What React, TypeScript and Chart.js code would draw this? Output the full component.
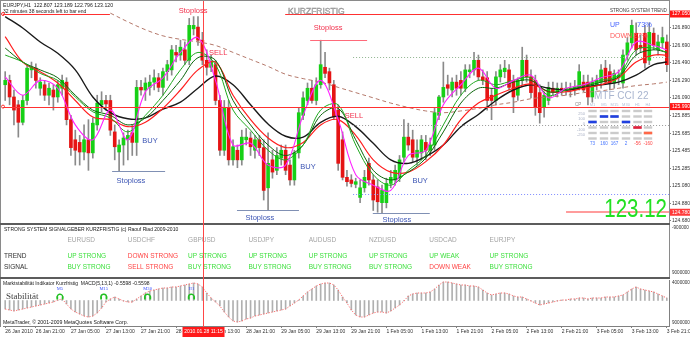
import React, { useEffect, useRef } from 'react';
import { Chart, registerables } from 'chart.js';

Chart.register(...registerables);

const FONT = '"Liberation Sans", Arial, Helvetica, sans-serif';
const SERIF = '"Liberation Serif", "Times New Roman", serif';
Chart.defaults.font.family = FONT;

// ---------- EURJPY H1 candles (one per hour, 26 Jan 14:00 .. 3 Feb 21:00) ----------
const OPEN = [
  126.24,126.29,126.10,126.01,125.81,126.06,126.41,126.43,126.20,126.24,
  126.12,126.18,126.10,126.20,126.27,125.84,125.61,125.58,125.47,125.61,
  125.46,125.78,126.01,126.06,126.06,125.70,125.47,125.55,125.61,125.69,
  125.58,126.21,126.18,126.21,126.27,126.32,126.21,126.39,126.41,126.61,
  126.58,126.64,126.52,126.88,126.90,126.75,126.52,126.44,126.47,126.06,
  125.49,125.97,125.38,125.49,125.38,125.61,125.63,125.49,125.61,125.52,
  125.06,125.38,125.26,125.40,125.49,125.32,125.15,125.46,125.89,126.06,
  126.20,126.06,126.24,126.44,126.39,126.24,125.95,125.61,125.18,125.15,
  125.10,124.95,125.06,125.34,125.15,125.07,124.89,124.89,125.11,125.15,
  125.18,125.41,125.64,125.61,125.41,125.46,125.58,125.49,125.55,125.89,
  126.10,126.24,126.18,126.27,126.29,126.20,126.39,126.41,126.52,126.33,
  126.32,126.12,126.06,126.33,126.39,126.41,126.29,126.12,126.29,126.52,
  126.33,126.29,126.15,125.98,126.06,126.20,126.16,126.20,126.18,126.20,
  126.18,126.21,126.27,126.27,126.10,126.24,126.27,126.43,126.39,126.26,
  126.32,126.26,126.58,126.72,126.83,126.69,126.83,126.52,126.83,126.64,
  126.72,126.73,
];
const HIGH = [
  126.39,126.35,126.18,126.06,126.12,126.47,126.50,126.48,126.32,126.29,
  126.26,126.24,126.29,126.35,126.32,125.89,125.72,125.66,125.78,125.84,
  125.86,126.12,126.16,126.12,126.12,125.78,125.61,125.69,125.72,125.78,
  126.29,126.29,126.32,126.35,126.41,126.37,126.43,126.52,126.69,126.69,
  126.75,126.73,127.00,127.02,127.02,126.84,126.64,126.58,126.52,126.12,
  126.06,126.06,125.61,125.55,125.72,125.74,125.70,125.66,125.66,125.61,
  125.69,125.49,125.52,125.55,125.55,125.38,125.49,125.97,126.16,126.26,
  126.29,126.32,126.75,126.61,126.43,126.29,126.01,125.70,125.26,125.21,
  125.17,125.15,125.26,125.40,125.21,125.15,125.09,125.17,125.26,125.32,
  125.43,125.84,125.80,125.72,125.61,125.66,125.66,125.63,125.97,126.12,
  126.50,126.35,126.32,126.35,126.39,126.47,126.47,126.61,126.58,126.41,
  126.39,126.20,126.39,126.47,126.52,126.47,126.35,126.32,126.67,126.58,
  126.41,126.35,126.24,126.16,126.27,126.27,126.26,126.26,126.27,126.26,
  126.29,126.47,126.35,126.35,126.32,126.35,126.47,126.52,126.47,126.41,
  126.41,126.64,126.78,126.98,126.95,126.81,126.92,126.95,126.89,126.81,
  126.90,126.81,
];
const LOW = [
  126.06,126.01,125.78,125.64,125.78,126.01,126.32,126.20,126.12,126.06,
  126.01,125.95,126.04,126.12,125.78,125.43,125.32,125.32,125.38,125.26,
  125.40,125.72,125.93,125.95,125.66,125.38,125.25,125.32,125.38,125.43,
  125.43,126.12,126.06,126.12,126.18,126.16,126.12,126.29,126.35,126.50,
  126.52,126.47,126.47,126.81,126.69,126.47,126.35,126.39,126.01,125.43,
  125.43,125.32,125.32,125.29,125.32,125.55,125.43,125.40,125.43,124.92,
  124.80,125.17,125.21,125.32,125.21,125.09,125.09,125.40,125.84,126.01,
  126.03,126.01,126.20,126.32,126.18,125.84,125.26,125.15,125.08,125.07,
  125.06,124.89,125.01,125.09,124.80,124.78,124.77,124.83,125.06,125.09,
  125.13,125.36,125.49,125.36,125.32,125.38,125.38,125.43,125.49,125.84,
  126.04,126.12,126.10,126.12,126.12,126.16,126.32,126.35,126.29,126.24,
  125.95,125.84,126.01,126.27,126.32,126.18,125.92,126.06,126.24,126.27,
  126.09,125.89,125.80,125.87,126.01,126.12,126.10,126.12,126.12,126.10,
  126.12,126.18,126.16,126.01,126.04,126.18,126.20,126.24,126.18,126.20,
  126.24,126.20,126.52,126.66,126.58,126.61,126.43,126.47,126.64,126.58,
  126.66,126.39,
];
const CLOSE = [
  126.29,126.10,125.95,125.81,126.06,126.43,126.44,126.29,126.27,126.12,
  126.20,126.10,126.24,126.29,125.84,125.52,125.49,125.47,125.61,125.46,
  125.80,126.03,126.06,126.02,125.72,125.53,125.55,125.63,125.66,125.58,
  126.21,126.18,126.26,126.27,126.32,126.21,126.39,126.47,126.64,126.58,
  126.67,126.52,126.92,126.92,126.75,126.52,126.44,126.50,126.06,125.49,
  125.97,125.38,125.53,125.38,125.64,125.64,125.53,125.61,125.52,125.03,
  125.34,125.24,125.43,125.49,125.26,125.15,125.46,125.92,126.09,126.20,
  126.06,126.24,126.47,126.37,126.26,125.87,125.34,125.18,125.13,125.11,
  125.13,125.06,125.18,125.15,124.92,124.90,125.03,125.11,125.18,125.26,
  125.38,125.64,125.55,125.41,125.49,125.61,125.49,125.55,125.92,126.10,
  126.21,126.20,126.27,126.20,126.20,126.41,126.41,126.52,126.33,126.29,
  126.06,126.06,126.33,126.41,126.43,126.21,126.10,126.29,126.52,126.33,
  126.15,125.98,125.92,126.12,126.21,126.16,126.20,126.18,126.20,126.18,
  126.21,126.39,126.18,126.10,126.27,126.29,126.41,126.27,126.26,126.37,
  126.35,126.58,126.72,126.92,126.64,126.66,126.49,126.84,126.69,126.73,
  126.78,126.47,
];

// ---------- moving averages, read every 4th bar ----------
const MA_INDEX = [0,4,8,12,16,20,24,28,32,36,40,44,48,52,56,60,64,68,72,76,80,84,88,92,96,100,104,108,112,116,120,124,128,132,136,140,144,148,151];
const MA_MAGENTA = [126.33,126.12,126.29,126.20,125.78,125.61,125.95,125.61,126.16,126.32,126.61,126.78,126.29,125.55,125.57,125.32,125.32,125.89,126.29,125.84,125.21,125.09,125.03,125.43,125.49,126.01,126.24,126.43,126.20,126.29,126.35,126.09,126.20,126.24,126.32,126.39,126.73,126.69,126.64];
const MA_GREEN = [126.58,126.50,126.37,126.29,126.10,125.93,125.86,125.70,125.89,126.12,126.41,126.61,126.47,125.95,125.72,125.49,125.38,125.55,125.95,126.01,125.55,125.21,125.09,125.26,125.43,125.78,126.12,126.29,126.24,126.29,126.32,126.12,126.18,126.24,126.29,126.35,126.64,126.66,126.61];
const MA_DARKGREEN = [126.66,126.50,126.41,126.32,126.12,125.95,125.89,125.78,125.86,126.06,126.29,126.55,126.52,126.06,125.78,125.55,125.43,125.55,125.89,125.97,125.61,125.26,125.15,125.24,125.40,125.70,126.03,126.20,126.20,126.27,126.29,126.16,126.18,126.22,126.27,126.33,126.58,126.64,126.61];
const MA_RED = [126.79,126.50,126.39,126.26,126.06,125.87,125.84,125.76,125.81,125.97,126.18,126.41,126.50,126.12,125.84,125.63,125.52,125.58,125.78,125.84,125.66,125.38,125.24,125.24,125.36,125.55,125.84,126.03,126.12,126.20,126.25,126.16,126.16,126.20,126.24,126.32,126.50,126.58,126.58];
const MA_BLACK = [127.02,126.89,126.73,126.60,126.41,126.10,125.92,125.85,125.86,125.96,126.04,126.20,126.34,126.24,126.01,125.79,125.65,125.64,125.81,125.88,125.76,125.57,125.38,125.34,125.42,125.55,125.76,125.90,126.06,126.18,126.24,126.20,126.18,126.21,126.24,126.27,126.35,126.47,126.50];
const SLOW_INDEX = [24,28,32,36,40,44,48,52,56,60,64,68,72,76,80,84,88,92,96,100,104,108,112,116,120,124,128,132,136,140,144,148,151];
const MA_SLOW = [127.06,126.96,126.87,126.80,126.76,126.73,126.69,126.61,126.53,126.45,126.36,126.31,126.27,126.21,126.15,126.09,126.03,125.98,125.94,125.92,125.94,125.97,126.01,126.04,126.08,126.10,126.12,126.15,126.17,126.20,126.23,126.25,126.27];

// ---------- MACD(5,13,1) histogram ----------
const MACD = [
  -0.17,-0.19,-0.21,-0.19,-0.17,-0.15,-0.13,-0.11,-0.09,-0.07,
  -0.05,-0.03,0.01,0.03,-0.07,-0.17,-0.23,-0.27,-0.31,-0.33,
  -0.31,-0.25,-0.15,-0.03,0.03,0.07,0.03,-0.01,-0.03,-0.03,
  0.03,0.09,0.15,0.19,0.21,0.23,0.25,0.25,0.27,0.27,
  0.29,0.31,0.33,0.35,0.33,0.27,0.15,0.05,-0.03,-0.11,
  -0.23,-0.33,-0.41,-0.43,-0.41,-0.37,-0.35,-0.31,-0.29,-0.27,
  -0.25,-0.23,-0.21,-0.19,-0.17,-0.11,-0.05,0.01,0.09,0.17,
  0.23,0.29,0.33,0.35,0.35,0.31,0.21,0.07,-0.05,-0.19,
  -0.29,-0.33,-0.33,-0.29,-0.25,-0.23,-0.23,-0.25,-0.21,-0.15,
  -0.09,-0.01,0.09,0.13,0.15,0.15,0.15,0.17,0.23,0.31,
  0.37,0.37,0.35,0.33,0.31,0.31,0.29,0.29,0.27,0.21,
  0.15,0.11,0.13,0.15,0.15,0.13,0.09,0.07,0.07,0.03,
  -0.01,-0.05,-0.09,-0.07,-0.05,-0.03,-0.01,0.01,0.01,0.03,
  0.03,0.05,0.05,0.03,0.05,0.05,0.05,0.07,0.07,0.07,
  0.09,0.11,0.17,0.23,0.27,0.23,0.21,0.19,0.17,0.13,
  0.09,0.05,
];

// ---------- axis ticks ----------
const PRICE_TICKS = [126.89,126.69,126.49,126.29,126.09,125.885,125.685,125.485,125.285,125.08,124.88,124.68];
const TIME_TICK_INDEX = [0,7,15,23,31,39,47,55,63,71,79,87,95,103,111,119,127,135,143,151];
const TIME_TICK_LABELS = ['26 Jan 2010','26 Jan 21:00','27 Jan 05:00','27 Jan 13:00','27 Jan 21:00','28 Jan 05:00','28 Jan 13:00','28 Jan 21:00','29 Jan 05:00','29 Jan 13:00','29 Jan 21:00','1 Feb 05:00','1 Feb 13:00','1 Feb 21:00','2 Feb 05:00','2 Feb 13:00','2 Feb 21:00','3 Feb 05:00','3 Feb 13:00','3 Feb 21:00'];

// ---------- chart objects ----------
const NOTE_TEXT = ['Stoploss','Stoploss','SELL','SELL','BUY','Stoploss','BUY','Stoploss','BUY','Stoploss'];
const NOTE_INDEX = [42.9,73.7,48.6,79.6,33.05,28.7,69.1,58.15,94.7,89.4];
const NOTE_PRICE = [127.08,126.89,126.60,125.88,125.60,125.14,125.30,124.71,125.14,124.69];
const NOTE_SELL = [true,true,true,true,false,false,false,false,false,false];
const STOP_FROM = [69.6,24.4,52.9,83.9];
const STOP_TO = [82.6,36.5,67.05,96.9];
const STOP_PRICE = [126.75,125.25,124.805,124.77];
const RESIST_PRICE = 127.05;
const SUPPORT_PRICE = 125.99;
const BID_PRICE = 124.78;
const DOT_PRICES = [126.557,125.78,124.99];
const DOT_FROM = 79.4;
const MARK_INDEX = 45.25;
const MARK_LABEL = '2010.01.28 11:15';

const PAIRS = ['EURUSD','USDCHF','GBPUSD','USDJPY','AUDUSD','NZDUSD','USDCAD','EURJPY'];
const TREND = ['UP STRONG','DOWN STRONG','UP STRONG','UP STRONG','UP STRONG','UP STRONG','UP WEAK','UP STRONG'];
const SIGNAL = ['BUY STRONG','SELL STRONG','BUY STRONG','BUY STRONG','BUY STRONG','BUY STRONG','DOWN WEAK','BUY STRONG'];

const CCI_FRAMES = ['M1','M5','M15','M30','H1','H4'];
const CCI_VALUES = [73,160,167,2,-56,-160];
const CCI_LEVELS = ['250','100','0','-100','-250'];
const TREND_UP = 73;
const TREND_DOWN = 27;
const STAB_INDEX = [12.5,22.5,32.5,42.5];
const STAB_FRAMES = ['M5','M15','M30','H1'];

const N = OPEN.length;

function sparse(idx: number[], vals: number[]) {
  const d: (number | null)[] = new Array(N).fill(null);
  idx.forEach((k, j) => { d[k] = vals[j]; });
  return d;
}

function hline(ctx: any, x1: number, x2: number, y: number, color: string, width: number, dash?: number[]) {
  ctx.save();
  ctx.strokeStyle = color;
  ctx.lineWidth = width;
  ctx.setLineDash(dash || []);
  const yy = width % 2 === 1 ? Math.round(y) + 0.5 : Math.round(y);
  ctx.beginPath();
  ctx.moveTo(x1, yy);
  ctx.lineTo(x2, yy);
  ctx.stroke();
  ctx.restore();
}

function text(ctx: any, s: string, x: number, y: number, size: number, color: string, align = 'left', family = FONT) {
  ctx.font = `${size}px ${family}`;
  ctx.fillStyle = color;
  ctx.textAlign = align;
  ctx.textBaseline = 'middle';
  ctx.fillText(s, x, y);
}

function vline(ctx: any, x: number, y1: number, y2: number) {
  ctx.save();
  ctx.strokeStyle = '#ff4646';
  ctx.lineWidth = 1;
  ctx.setLineDash([]);
  ctx.beginPath();
  ctx.moveTo(x, y1);
  ctx.lineTo(x, y2);
  ctx.stroke();
  ctx.restore();
}

const mainDecor = {
  id: 'mainDecor',
  afterDatasetsDraw(chart: any) {
    const { ctx, chartArea: a } = chart;
    const X = (i: number) => chart.scales.x.getPixelForValue(i);
    const Y = (p: number) => chart.scales.y.getPixelForValue(p);
    ctx.save();
    ctx.beginPath();
    ctx.rect(a.left, a.top, a.right - a.left, a.bottom - a.top);
    ctx.clip();

    // drawn levels
    hline(ctx, a.left, X(23.9), Y(RESIST_PRICE), '#ff3030', 1);
    hline(ctx, X(63.9), a.right, Y(RESIST_PRICE), '#ff3030', 1);
    hline(ctx, a.left, a.right, Y(SUPPORT_PRICE), '#ff3030', 1);
    hline(ctx, X(128), a.right, Y(BID_PRICE), '#ff9c9c', 2);
    const dotColors = ['#8fb48f', '#9a9a9a', '#7f8cff'];
    DOT_PRICES.forEach((p, k) => hline(ctx, X(DOT_FROM), a.right, Y(p), dotColors[k], 1, [1, 2]));

    // stop-loss lines
    STOP_PRICE.forEach((p, k) => hline(ctx, X(STOP_FROM[k]), X(STOP_TO[k]), Y(p), k === 0 ? '#ff6a7a' : '#8090b4', 1));

    // notes
    NOTE_TEXT.forEach((t, k) => {
      text(ctx, t, X(NOTE_INDEX[k]), Y(NOTE_PRICE[k]), 7.5, NOTE_SELL[k] ? '#f2304c' : '#3c55b4', 'center');
    });

    // KURZFRISTIG label
    ctx.font = `8.5px ${FONT}`;
    ctx.textAlign = 'left';
    ctx.textBaseline = 'middle';
    ctx.fillStyle = '#c4c4c4';
    ctx.fillText('KURZFRISTIG', 288, 12);
    ctx.strokeStyle = '#909090';
    ctx.lineWidth = 0.4;
    ctx.strokeText('KURZFRISTIG', 288, 12);
    ctx.restore();

    // trend strength
    text(ctx, 'STRONG SYSTEM TREND', 610, 10.5, 4.6, '#404040');
    text(ctx, 'UP', 610, 25, 7, '#4a66ff');
    text(ctx, TREND_UP + '%', 637, 25, 7.5, '#4a66ff');
    text(ctx, 'DOWN', 610, 36, 7, '#ff5a5a');
    text(ctx, TREND_DOWN + '%', 633, 36, 7.5, '#ff5a5a');

    // MTF CCI panel
    text(ctx, 'MTF CCI 22', 594, 96, 10, '#a9b5cf');
    const colX = [592.5, 604, 614.5, 626, 637.5, 648];
    CCI_FRAMES.forEach((f, k) => text(ctx, f, colX[k], 104.5, 4, '#b3bed6', 'center'));
    text(ctx, 'CP', 575, 104.5, 4.5, '#8a8a8a');
    CCI_LEVELS.forEach((l, k) => text(ctx, l, 585, 113.5 + k * 5.4, 4, '#a9b0c4', 'right'));
    const rowY = [111, 116.5, 122, 127.5, 133, 138.5];
    const rowOf = (v: number) => (v > 250 ? 0 : v > 100 ? 1 : v >= 0 ? 2 : v > -100 ? 3 : v > -250 ? 4 : 5);
    const rowColor = ['#2040e0', '#2040e0', '#2040e0', '#e0203c', '#ff6848', '#ff6848'];
    colX.forEach((cx, c) => {
      rowY.forEach((ry) => {
        ctx.fillStyle = '#cbcbcb';
        ctx.fillRect(cx - 4.2, ry - 1.2, 8.4, 2.4);
      });
      const r = rowOf(CCI_VALUES[c]);
      ctx.fillStyle = rowColor[r];
      ctx.fillRect(cx - 4.2, rowY[r] - 1.3, 8.4, 2.6);
      text(ctx, String(CCI_VALUES[c]), cx, 143.5, 4.6, CCI_VALUES[c] >= 0 ? '#4a78ff' : '#ff4848', 'center');
    });

    // big price
    ctx.save();
    ctx.font = `25px ${FONT}`;
    ctx.fillStyle = '#22e022';
    ctx.textAlign = 'right';
    ctx.textBaseline = 'alphabetic';
    ctx.translate(667, 217);
    ctx.scale(0.82, 1);
    ctx.fillText('123.12', 0, 0);
    ctx.restore();
  },
  afterDraw(chart: any) {
    const { ctx, chartArea: a } = chart;
    const X = (i: number) => chart.scales.x.getPixelForValue(i);
    const Y = (p: number) => chart.scales.y.getPixelForValue(p);

    // header
    text(ctx, 'EURJPY,H1  122.807 123.189 122.796 123.120', 3, 6, 5.2, '#202020');
    text(ctx, '32 minutes 38 seconds left to bar end', 3, 12, 5, '#202020');

    // frame
    ctx.fillStyle = '#8a8a8a';
    ctx.fillRect(0, 0, 670, 1);
    ctx.fillRect(0, 0, 1, 279);
    ctx.fillRect(669, 0, 1, 279);
    ctx.fillStyle = '#5c5c5c';
    ctx.fillRect(0, 223, 670, 2);
    ctx.fillRect(0, 277, 670, 2);

    // axis flags
    const flags = [RESIST_PRICE, SUPPORT_PRICE, BID_PRICE];
    flags.forEach((p, k) => {
      const y = Y(p);
      ctx.fillStyle = k === 2 ? '#ff3a3a' : '#ff1414';
      ctx.fillRect(670, y - 3.5, 20, 7);
      text(ctx, p.toFixed(3), 672, y, 5, '#ffffff');
    });

    // signal table panel
    text(ctx, 'STRONG SYSTEM SIGNALGEBER KURZFRISTIG (c) Raouf Riad 2009-2010', 4, 229.5, 5, '#202020');
    text(ctx, 'TREND', 4, 256, 6.5, '#303030');
    text(ctx, 'SIGNAL', 4, 267, 6.5, '#303030');
    const good = (s: string) => s.indexOf('UP') === 0 || s.indexOf('BUY') === 0;
    PAIRS.forEach((p, k) => {
      const x = 67.5 + k * 60.3;
      text(ctx, p, x, 240, 6.5, '#a4a4a4');
      text(ctx, TREND[k], x, 256, 6.5, good(TREND[k]) ? '#3ee03e' : '#ff4444');
      text(ctx, SIGNAL[k], x, 267, 6.5, good(SIGNAL[k]) ? '#3ee03e' : '#ff4444');
    });
    text(ctx, '-900000', 672, 227.5, 4.6, '#303030');
    text(ctx, '9000000', 672, 273, 4.6, '#303030');

    // time mark line
    vline(ctx, Math.round(X(MARK_INDEX)) + 0.5, 1, 279);

    // edge markers
    ctx.strokeStyle = '#ff3030';
    ctx.lineWidth = 1;
    [RESIST_PRICE, SUPPORT_PRICE].forEach((p) => {
      ctx.beginPath();
      ctx.arc(a.left, Y(p), 1.5, 0, Math.PI * 2);
      ctx.stroke();
    });
  },
};

const macdDecor = {
  id: 'macdDecor',
  afterDatasetsDraw(chart: any) {
    const { ctx } = chart;
    const X = (i: number) => chart.scales.x.getPixelForValue(i);
    const Y = (v: number) => chart.scales.y.getPixelForValue(v);
    STAB_INDEX.forEach((idx, k) => {
      const cx = X(idx);
      const cy = Y(0.07);
      ctx.save();
      ctx.strokeStyle = '#22c022';
      ctx.lineWidth = 1.4;
      ctx.beginPath();
      ctx.arc(cx, cy, 2.8, Math.PI * 0.95, Math.PI * 2.05);
      ctx.stroke();
      ctx.fillStyle = '#22c022';
      ctx.fillRect(cx - 3.6, cy - 0.5, 1.8, 3);
      ctx.fillRect(cx + 1.8, cy - 0.5, 1.8, 3);
      ctx.restore();
      text(ctx, STAB_FRAMES[k], cx, cy - 8, 4.6, '#3a52ff', 'center', SERIF);
    });
    text(ctx, 'Stabilität', 6, Y(0.07), 9, '#404040', 'left', SERIF);
  },
  afterDraw(chart: any) {
    const { ctx } = chart;
    const X = (i: number) => chart.scales.x.getPixelForValue(i);
    text(ctx, 'Marktstabilität Indikator Kurzfristig  MACD(5,13,1) -0.5598 -0.5598', 3, 4.5, 5, '#202020');
    text(ctx, 'MetaTrader, © 2001-2009 MetaQuotes Software Corp.', 3, 44, 5.2, '#202020');
    text(ctx, '4000000', 672, 4, 4.6, '#303030');
    text(ctx, '9000000', 672, 44, 4.6, '#303030');
    ctx.fillStyle = '#8a8a8a';
    ctx.fillRect(0, 0, 1, 48);
    const mx = Math.round(X(MARK_INDEX)) + 0.5;
    vline(ctx, mx, 0, 48);
    ctx.fillStyle = '#ff1a1a';
    ctx.fillRect(mx - 21, 48, 42, 10);
    text(ctx, MARK_LABEL, mx, 53, 5, '#ffffff', 'center');
  },
};

export default function App() {
  const mainRef = useRef<HTMLCanvasElement>(null);
  const macdRef = useRef<HTMLCanvasElement>(null);

  useEffect(() => {
    document.body.style.margin = '0';
    const labels = OPEN.map((_, i) => String(i));
    const bodies = OPEN.map((o, i) => [o, CLOSE[i]]);
    const wicks = LOW.map((l, i) => [l, HIGH[i]]);
    const bodyColors = OPEN.map((o, i) => (CLOSE[i] >= o ? '#16d016' : '#e51414'));
    const lineDs = (data: any[], color: string, width: number, order: number, dash?: number[]) => ({
      type: 'line',
      data,
      borderColor: color,
      borderWidth: width,
      borderDash: dash || [],
      pointRadius: 0,
      spanGaps: true,
      tension: 0.35,
      order,
    });

    const main = new Chart(mainRef.current as HTMLCanvasElement, {
      type: 'bar',
      data: {
        labels,
        datasets: [
          lineDs(sparse(MA_INDEX, MA_MAGENTA), '#ff22ff', 1.1, 1),
          lineDs(sparse(MA_INDEX, MA_GREEN), '#1fa81f', 1, 2),
          lineDs(sparse(MA_INDEX, MA_DARKGREEN), '#0b650b', 1, 3),
          lineDs(sparse(MA_INDEX, MA_RED), '#ff1e1e', 1.2, 4),
          lineDs(sparse(MA_INDEX, MA_BLACK), '#1a1a1a', 1.4, 5),
          lineDs(sparse(SLOW_INDEX, MA_SLOW), '#b4786a', 1, 6, [4, 3]),
          { type: 'bar', data: bodies, backgroundColor: bodyColors, barThickness: 3, grouped: false, order: 7 },
          { type: 'bar', data: wicks, backgroundColor: '#8a8a8a', barThickness: 1, grouped: false, order: 8 },
        ] as any,
      },
      options: {
        responsive: false,
        animation: false,
        events: [],
        layout: { padding: { left: 3, top: 3, right: 0, bottom: 56 } },
        plugins: { legend: { display: false }, tooltip: { enabled: false } },
        scales: {
          x: { display: false, offset: true },
          y: {
            position: 'right',
            min: 124.657,
            max: 127.176,
            beginAtZero: false,
            afterBuildTicks: (s: any) => { s.ticks = PRICE_TICKS.map((v) => ({ value: v })); },
            ticks: { autoSkip: false, padding: 1, font: { size: 5, family: FONT }, color: '#333333', callback: (v: any) => Number(v).toFixed(3) },
            grid: { drawOnChartArea: false, tickLength: 2, color: '#808080' },
            border: { color: '#808080' },
            afterFit: (s: any) => { s.width = 21; s.paddingTop = 0; s.paddingBottom = 0; },
          },
        },
      } as any,
      plugins: [mainDecor],
    });

    const macd = new Chart(macdRef.current as HTMLCanvasElement, {
      type: 'bar',
      data: {
        labels,
        datasets: [
          { type: 'line', data: MACD, borderColor: '#ff6a6a', borderWidth: 1, borderDash: [1.2, 1.6], pointRadius: 0, order: 1 },
          { type: 'bar', data: MACD, backgroundColor: '#b0b0b0', barThickness: 1, grouped: false, order: 2 },
        ] as any,
      },
      options: {
        responsive: false,
        animation: false,
        events: [],
        layout: { padding: { left: 3, top: 1, right: 0, bottom: 0 } },
        plugins: { legend: { display: false }, tooltip: { enabled: false } },
        scales: {
          x: {
            offset: true,
            grid: { offset: false, drawOnChartArea: false, tickLength: 2, color: '#808080' },
            border: { color: '#808080' },
            ticks: {
              autoSkip: false,
              maxRotation: 0,
              minRotation: 0,
              align: 'start',
              padding: 1,
              font: { size: 5, family: FONT },
              color: '#303030',
              callback: (_v: any, i: number) => {
                const k = TIME_TICK_INDEX.indexOf(i);
                return k >= 0 ? TIME_TICK_LABELS[k] : null;
              },
            },
            afterFit: (s: any) => { s.height = 11; s.paddingLeft = 0; s.paddingRight = 0; },
          },
          y: {
            position: 'right',
            min: -0.51,
            max: 0.41,
            beginAtZero: false,
            ticks: { display: false },
            grid: { display: false },
            border: { color: '#808080' },
            afterFit: (s: any) => { s.width = 21; s.paddingTop = 0; s.paddingBottom = 0; },
          },
        },
      } as any,
      plugins: [macdDecor],
    });

    return () => {
      main.destroy();
      macd.destroy();
    };
  }, []);

  return (
    <div style={{ position: 'fixed', left: 0, top: 0, width: 690, height: 337, background: '#ffffff', overflow: 'hidden' }}>
      <canvas ref={mainRef} width={690} height={279} style={{ position: 'absolute', left: 0, top: 0 }} />
      <canvas ref={macdRef} width={690} height={58} style={{ position: 'absolute', left: 0, top: 279 }} />
    </div>
  );
}
